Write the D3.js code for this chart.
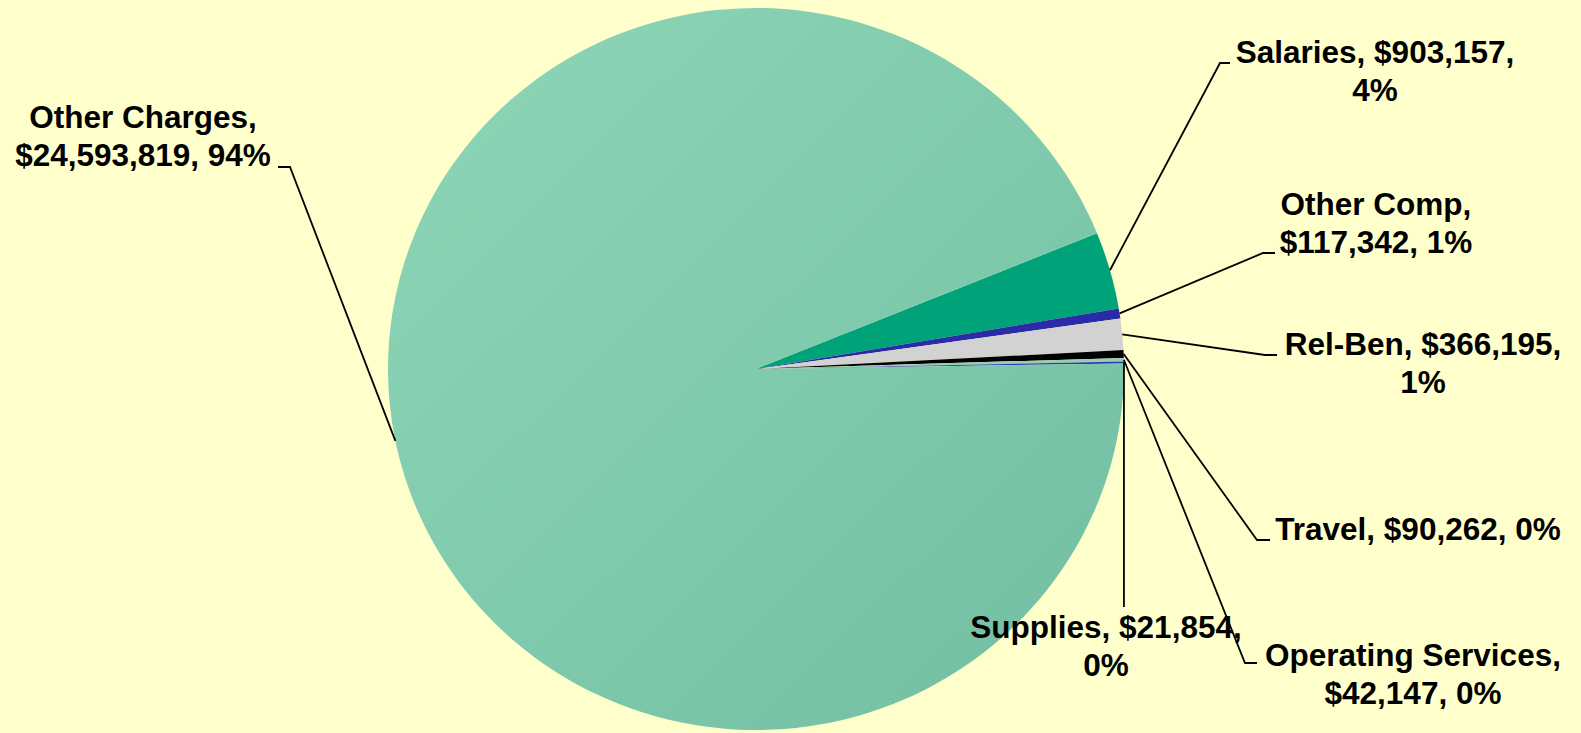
<!DOCTYPE html>
<html lang="en">
<head>
    <meta charset="UTF-8">
    <title>Expenditures</title>
    <script src="https://d3js.org/d3.v7.min.js"></script>
    <style>
        body { margin: 0; background: #ffffcc; }
        text {
            font-family: 'Liberation Sans', Arial, sans-serif;
            font-size: 31.5px;
            font-weight: bold;
            text-anchor: middle;
            fill: black;
        }
        .leader { fill: none; stroke: black; stroke-width: 1.8; }
    </style>
</head>
<body>
<script>
    const width = 1581;
    const height = 733;

    // data, in the order Excel draws the slices (clockwise)
    const categories = ['Salaries', 'Other Comp', 'Rel-Ben', 'Travel', 'Operating Services', 'Supplies', 'Other Charges'];
    const amounts = [903157, 117342, 366195, 90262, 42147, 21854, 24593819];
    const percents = [4, 1, 1, 0, 0, 0, 94];   // as printed on the chart

    const colors = ['#00a27a', '#2b2ba8', '#d2d2d2', '#000000', '#8fd0b6', '#3535b0', 'url(#gOther)'];

    // pie geometry
    const cx = 756, cy = 369, rx = 368, ry = 361;
    const start = 67.9 * Math.PI / 180;

    // label layout: text centre x, first baseline, leader bend / end points, line grouping
    const labelLayout = {
        'Salaries':           {x: 1375, y: 63,  bend: [1220, 63],  end: [1230, 63],  lines: [[0, 1], [2]]},
        'Other Comp':         {x: 1376, y: 215, bend: [1263, 253], end: [1275, 253], lines: [[0], [1, 2]]},
        'Rel-Ben':            {x: 1423, y: 355, bend: [1265, 355], end: [1277, 355], lines: [[0, 1], [2]]},
        'Travel':             {x: 1418, y: 540, bend: [1257, 540], end: [1270, 540], lines: [[0, 1, 2]]},
        'Operating Services': {x: 1413, y: 666, bend: [1245, 663], end: [1257, 663], lines: [[0], [1, 2]]},
        'Supplies':           {x: 1106, y: 638, bend: null,        end: [null, 607], lines: [[0, 1], [2]]},
        'Other Charges':      {x: 143,  y: 128, bend: [290, 167],  end: [278, 167],  lines: [[0], [1, 2]]}
    };
    const lineGap = 38;

    const data = categories.map((c, i) => ({name: c, amount: amounts[i], pct: percents[i], color: colors[i]}));
    const money = d3.format('$,');

    const svg = d3.select('body').append('svg').attr('width', width).attr('height', height);
    svg.append('rect').attr('width', width).attr('height', height).attr('fill', '#ffffcc');

    const defs = svg.append('defs');
    const grad = defs.append('linearGradient').attr('id', 'gOther')
        .attr('x1', 0).attr('y1', 0).attr('x2', 1).attr('y2', 1);
    grad.append('stop').attr('offset', '0%').attr('stop-color', '#8ed6b8');
    grad.append('stop').attr('offset', '100%').attr('stop-color', '#72bea2');

    const pie = d3.pie().value(d => d.amount).sort(null)
        .startAngle(start).endAngle(start + 2 * Math.PI);
    const arcs = pie(data);

    const arc = d3.arc().innerRadius(0).outerRadius(rx);
    const rim = d3.arc().innerRadius(rx).outerRadius(rx);

    const chart = svg.append('g').attr('transform', `translate(${cx},${cy}) scale(1,${ry / rx})`);
    chart.selectAll('path')
        .data(arcs).enter()
        .append('path')
        .attr('d', arc)
        .attr('fill', d => d.data.color);

    // leader lines
    arcs.forEach(d => {
        const lay = labelLayout[d.data.name];
        const c = rim.centroid(d);
        const p0 = [cx + c[0], cy + c[1] * ry / rx];
        const pts = [p0];
        if (lay.bend) pts.push(lay.bend);
        pts.push([lay.end[0] === null ? p0[0] : lay.end[0], lay.end[1]]);
        svg.append('path').attr('class', 'leader').attr('d', d3.line()(pts));
    });

    // labels
    arcs.forEach(d => {
        const lay = labelLayout[d.data.name];
        const parts = [d.data.name + ',', money(d.data.amount) + ',', d.data.pct + '%'];
        const t = svg.append('text').attr('x', lay.x).attr('y', lay.y);
        lay.lines.forEach((grp, i) => {
            t.append('tspan')
                .attr('x', lay.x)
                .attr('dy', i === 0 ? 0 : lineGap)
                .text(grp.map(k => parts[k]).join(' '));
        });
    });
</script>
</body>
</html>
